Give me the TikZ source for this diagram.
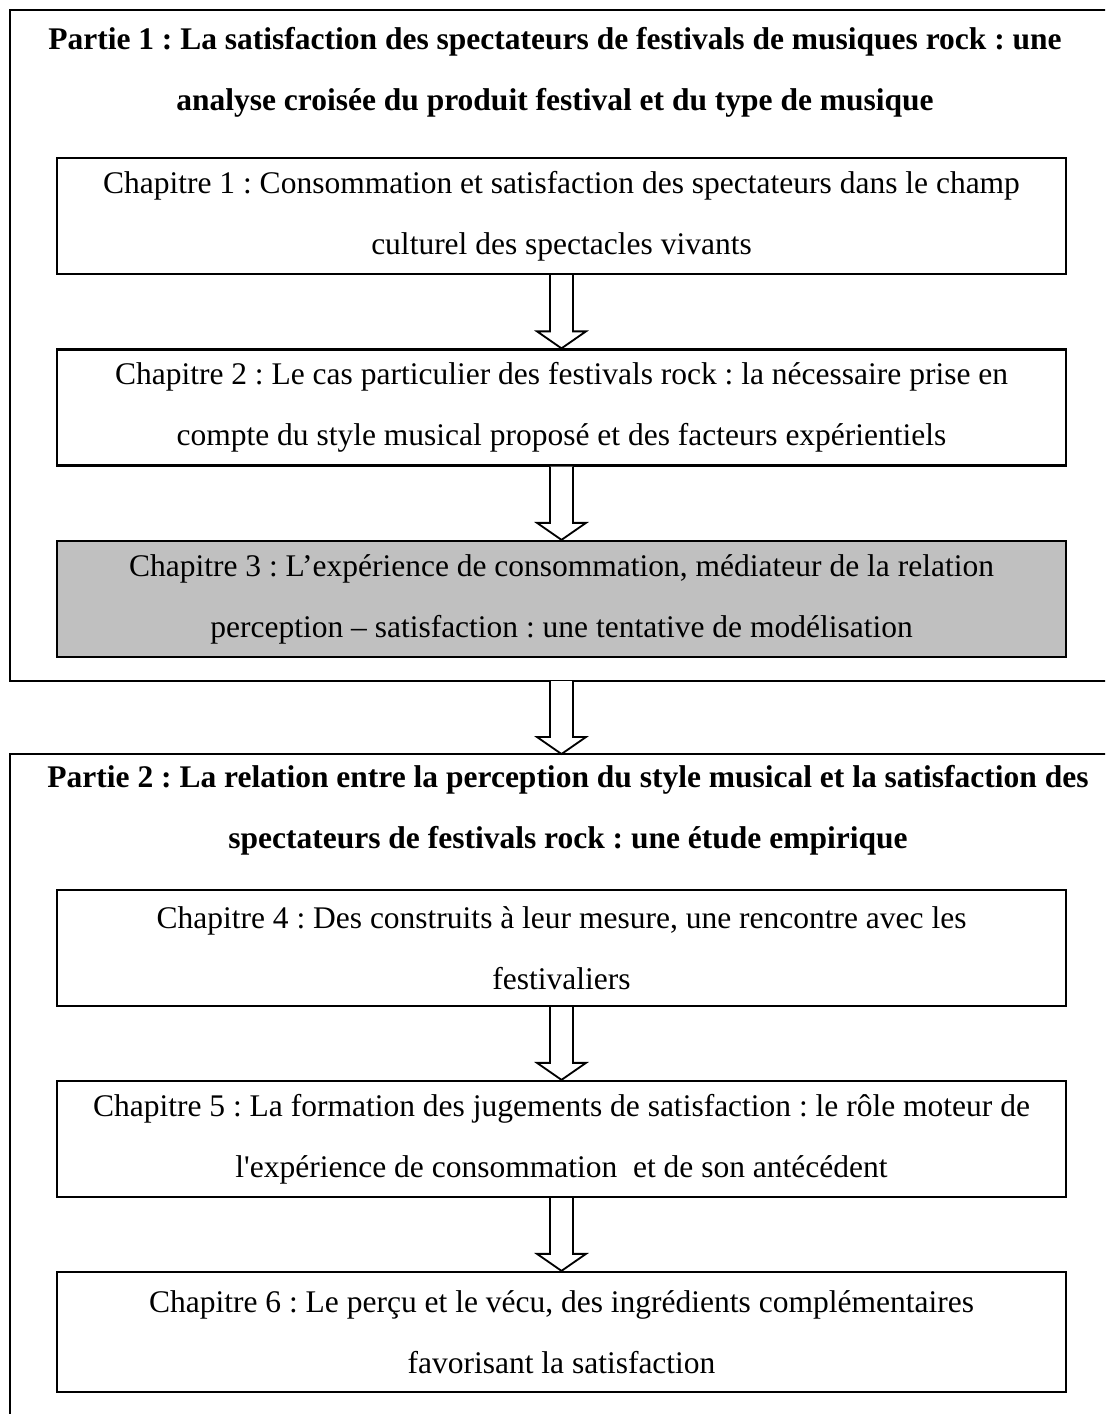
\documentclass[tikz,border=0pt]{standalone}
\usepackage{fontspec}
\setmainfont{Liberation Serif}[Ligatures=TeXOff]
\usetikzlibrary{calc}
\definecolor{chapgray}{RGB}{192,192,192}
\frenchspacing
% hollow arrow from the bottom of one box to the top of the next
\newcommand{\hollowarrow}[2]{%
    \draw[arrowline] ($(#1)+(-11.5,0)$) -- ($(#2)+(-11.5,-17)$) -- ++(-13,0)
        -- (#2) -- ++(24.5,-17) -- ++(-13,0) -- ($(#1)+(11.5,0)$);
}

\begin{document}
\begin{tikzpicture}[x=0.025cm,y=-0.025cm,
    chapbox/.style={draw,line width=1.6pt,minimum width=25.225cm,minimum height=2.9cm,
        align=center,inner sep=0pt,font=\fontsize{22.4}{43.4}\selectfont},
    titlenode/.style={align=center,inner sep=0pt,font=\fontsize{22.4}{43.4}\selectfont\bfseries},
    arrowline/.style={line width=1.3pt,fill=white,line join=miter}]
    \useasboundingbox (0,0) rectangle (1105,1414);
    \begin{scope}
        \clip (0,0) rectangle (1105,1414);
        \draw[line width=1.8pt] (10,10) rectangle (1125,681);
        \draw[line width=1.8pt] (10,754) rectangle (1125,1450);
    \end{scope}
    \coordinate (p1bot) at (561.5,681);
    \coordinate (p2top) at (561.5,754);

    % Partie 1
    \node[titlenode] (part1) at (555,72.5) {Partie 1 : La satisfaction des spectateurs de festivals de musiques rock : une\\analyse croisée du produit festival et du type de musique};
    \node[chapbox] (ch1) at (561.5,216) {Chapitre 1 : Consommation et satisfaction des spectateurs dans le champ\\culturel des spectacles vivants};
    \node[chapbox] (ch2) at (561.5,407.5) {Chapitre 2 : Le cas particulier des festivals rock : la nécessaire prise en\\compte du style musical proposé et des facteurs expérientiels};
    \node[chapbox,fill=chapgray] (ch3) at (561.5,599) {Chapitre 3 : L’expérience de consommation, médiateur de la relation\\perception – satisfaction : une tentative de modélisation};

    % Partie 2
    \node[titlenode] (part2) at (568,810) {Partie 2 : La relation entre la perception du style musical et la satisfaction des\\spectateurs de festivals rock : une étude empirique};
    \node[chapbox] (ch4) at (561.5,948) {Chapitre 4 : Des construits à leur mesure, une rencontre avec les\\festivaliers};
    \node[chapbox] (ch5) at (561.5,1139) {Chapitre 5 : La formation des jugements de satisfaction : le rôle moteur de\\l'expérience de consommation \ et de son antécédent};
    \node[chapbox,minimum height=3cm] (ch6) at (561.5,1332) {Chapitre 6 : Le perçu et le vécu, des ingrédients complémentaires\\favorisant la satisfaction};

    \hollowarrow{ch1.south}{ch2.north}
    \hollowarrow{ch2.south}{ch3.north}
    \hollowarrow{p1bot}{p2top}
    \hollowarrow{ch4.south}{ch5.north}
    \hollowarrow{ch5.south}{ch6.north}
\end{tikzpicture}
\end{document}
